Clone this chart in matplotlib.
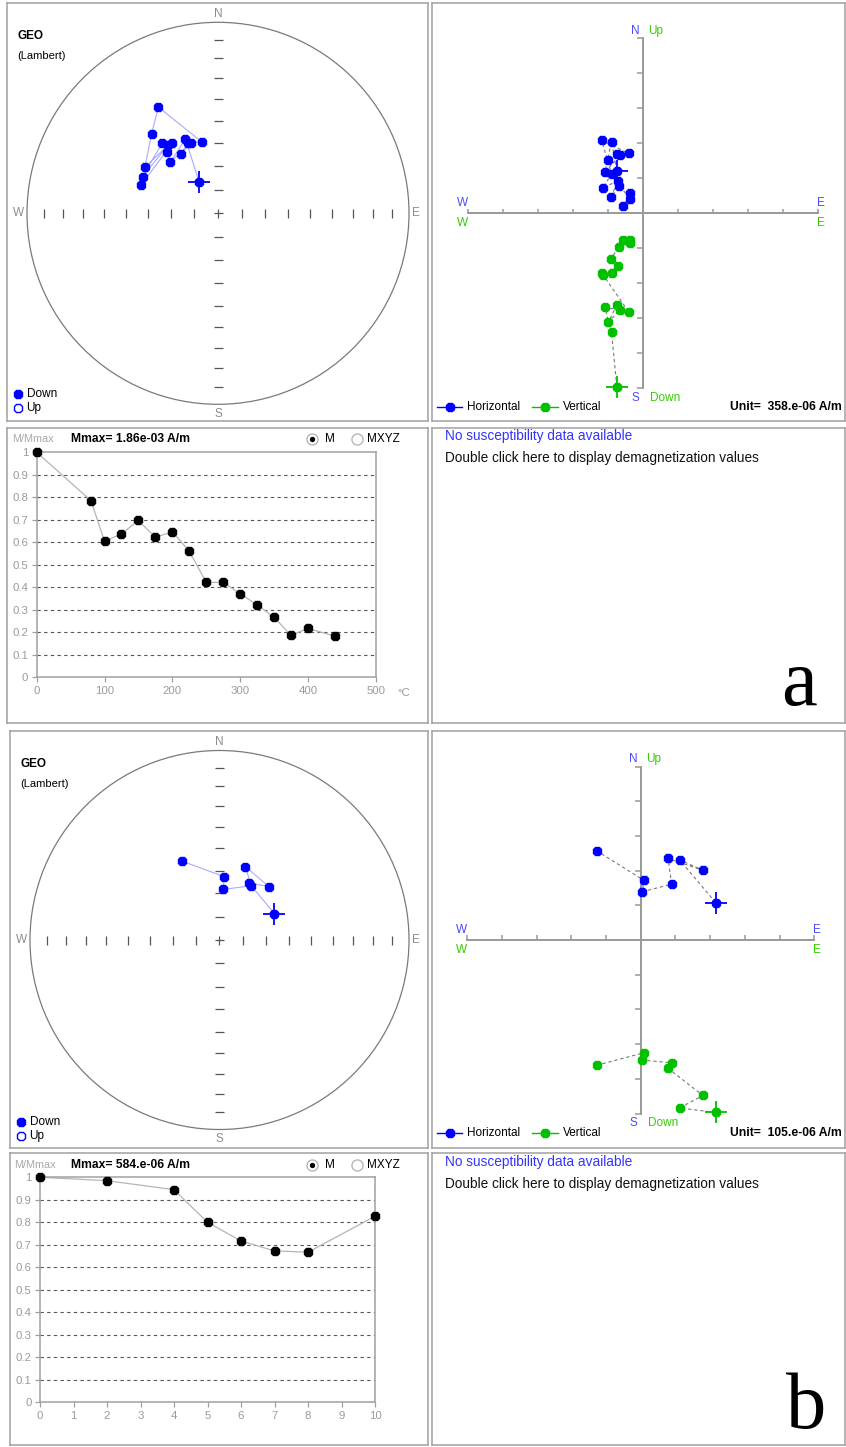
import numpy as np
import matplotlib.pyplot as plt
from matplotlib.patches import Circle

plt.rcParams['font.family'] = ['Liberation Sans', 'DejaVu Sans']

# ---------------- sample a : thermal demagnetization ----------------
steps_a = [0, 80, 100, 125, 150, 175, 200, 225, 250, 275, 300, 325, 350, 375, 400, 440]
m_ratio_a = [1.0, 0.785, 0.605, 0.637, 0.697, 0.622, 0.647, 0.561,
             0.422, 0.422, 0.372, 0.322, 0.267, 0.187, 0.217, 0.183]
# Zijderveld components, in units of 358e-06 A/m
east_a = [-0.74, -0.89, -1.08, -0.65, -0.98, -0.74, -0.39, -1.17,
          -0.89, -1.14, -0.70, -0.91, -0.67, -0.36, -0.36, -0.55]
north_a = [1.22, 2.05, 1.17, 1.66, 1.52, 1.70, 1.71, 2.08,
           1.12, 0.73, 0.93, 0.46, 0.79, 0.42, 0.57, 0.20]
up_a = [-4.95, -3.40, -2.69, -2.76, -3.11, -2.62, -2.83, -1.71,
        -1.70, -1.75, -1.50, -1.30, -0.95, -0.76, -0.86, -0.76]
# Lambert equal-area projection (primitive circle = 1)
lam_e_a = [-0.099, -0.171, -0.249, -0.143, -0.195, -0.157, -0.084, -0.312,
           -0.348, -0.383, -0.261, -0.395, -0.293, -0.267, -0.239, -0.402]
lam_n_a = [0.166, 0.389, 0.268, 0.366, 0.310, 0.369, 0.373, 0.556,
           0.415, 0.240, 0.357, 0.192, 0.366, 0.319, 0.366, 0.150]
unit_a = 'Unit=  358.e-06 A/m'
mmax_a = 'Mmax= 1.86e-03 A/m'

# ---------------- sample b : AF demagnetization ----------------
steps_b = [0, 2, 4, 5, 6, 7, 8, 10]
m_ratio_b = [1.0, 0.985, 0.945, 0.80, 0.717, 0.673, 0.667, 0.827]
east_b = [2.16, 1.12, 1.79, 0.79, 0.89, 0.05, 0.09, -1.27]
north_b = [1.08, 2.31, 2.01, 2.35, 1.61, 1.39, 1.72, 2.57]
up_b = [-4.97, -4.84, -4.48, -3.70, -3.54, -3.46, -3.25, -3.61]
lam_e_b = [0.290, 0.155, 0.262, 0.137, 0.167, 0.019, 0.026, -0.200]
lam_n_b = [0.139, 0.302, 0.281, 0.387, 0.286, 0.267, 0.334, 0.417]
unit_b = 'Unit=  105.e-06 A/m'
mmax_b = 'Mmax= 584.e-06 A/m'

FRAME = '#a0a0a0'
AXIS = '#999999'
BLUE = '#0000ff'
GREEN = '#00c000'
LBL_BLUE = '#4a4aff'
LBL_GREEN = '#33cc00'

W, H = 846, 1447
fig = plt.figure(figsize=(W / 100, H / 100), dpi=100)


def box_axes(x0, y0, x1, y1):
    ax = fig.add_axes([x0 / W, 1 - y1 / H, (x1 - x0) / W, (y1 - y0) / H])
    ax.set_xticks([])
    ax.set_yticks([])
    for sp in ax.spines.values():
        sp.set_color(FRAME)
        sp.set_linewidth(1.1)
    return ax


def scale_axes(ax, box, origin, px_per_unit):
    x0, y0, x1, y1 = box
    ox, oy = origin
    ax.set_xlim((x0 - ox) / px_per_unit, (x1 - ox) / px_per_unit)
    ax.set_ylim((oy - y1) / px_per_unit, (oy - y0) / px_per_unit)


def stereonet(box, center, radius, lam_e, lam_n):
    ax = box_axes(*box)
    scale_axes(ax, box, center, radius)
    ax.add_patch(Circle((0, 0), 1, fill=False, ec='#7a7a7a', lw=0.9))
    r = np.sqrt(1 - np.sin(np.radians(np.arange(10, 90, 10))))
    r = np.concatenate([-r, r])
    tl = 4.5 / radius
    ax.vlines(r, -tl, tl, color='#555555', lw=0.9)
    ax.hlines(r, -tl, tl, color='#555555', lw=0.9)
    ax.vlines(0, -tl, tl, color='#555555', lw=0.9)
    ax.hlines(0, -tl, tl, color='#555555', lw=0.9)
    for lbl, x, y in [('N', 0, 1.045), ('S', 0, -1.05), ('W', -1.045, 0), ('E', 1.035, 0)]:
        ax.text(x, y, lbl, ha='center', va='center', color='#8c8c8c', fontsize=8.5)
    ax.plot(lam_e, lam_n, color='#a9a9ff', lw=0.8)
    ax.plot(lam_e, lam_n, ls='none', marker='8', ms=6.8, color=BLUE)
    ax.plot(lam_e[0], lam_n[0], marker='+', ms=16, mew=1.3, color=BLUE)
    return ax


def zijderveld(box, origin, unit_px, east, north, up):
    ax = box_axes(*box)
    scale_axes(ax, box, origin, unit_px)
    k = np.array([-5, -4, -3, -2, -1, 1, 2, 3, 4, 5])
    ax.plot([-5, 5], [0, 0], color=AXIS, lw=1.4)
    ax.plot([0, 0], [-5, 5], color=AXIS, lw=1.4)
    ax.vlines(k, 0, 0.13, color=AXIS, lw=1.1)
    ax.hlines(k, -0.15, 0, color=AXIS, lw=1.1)
    dash = (0, (3, 2.5))
    ax.plot(east, north, color='#7a7a7a', lw=0.8, ls=dash)
    ax.plot(east, up, color='#7a7a7a', lw=0.8, ls=dash)
    ax.plot(east, north, ls='none', marker='8', ms=6.8, color=BLUE)
    ax.plot(east, up, ls='none', marker='8', ms=6.8, color=GREEN)
    ax.plot(east[0], north[0], marker='+', ms=16, mew=1.3, color=BLUE)
    ax.plot(east[0], up[0], marker='+', ms=16, mew=1.3, color=GREEN)
    ax.text(-5.15, 0.12, 'W', color=LBL_BLUE, ha='center', va='bottom', fontsize=8.5)
    ax.text(-5.15, -0.12, 'W', color=LBL_GREEN, ha='center', va='top', fontsize=8.5)
    ax.text(5.08, 0.12, 'E', color=LBL_BLUE, ha='center', va='bottom', fontsize=8.5)
    ax.text(5.08, -0.12, 'E', color=LBL_GREEN, ha='center', va='top', fontsize=8.5)
    ax.text(-0.1, 5.05, 'N', color=LBL_BLUE, ha='right', va='bottom', fontsize=8.5)
    ax.text(0.15, 5.05, 'Up', color=LBL_GREEN, ha='left', va='bottom', fontsize=8.5)
    ax.text(-0.1, -5.1, 'S', color=LBL_BLUE, ha='right', va='top', fontsize=8.5)
    ax.text(0.2, -5.1, 'Down', color=LBL_GREEN, ha='left', va='top', fontsize=8.5)
    return ax


def demag(frame_box, plot_box, steps, ratio, xmax, xticks):
    box_axes(*frame_box)
    ax = box_axes(*plot_box)
    ax.set_xlim(0, xmax)
    ax.set_ylim(0, 1)
    ax.hlines(np.arange(1, 10) / 10, 0, xmax, color='#555555', lw=0.8,
              linestyles=(0, (3, 3)))
    ax.plot(steps, ratio, color='#b5b5b5', lw=0.9, clip_on=False)
    ax.plot(steps, ratio, ls='none', marker='8', ms=6.8, color='black', clip_on=False, zorder=5)
    yt = np.arange(0, 11) / 10
    ax.set_yticks(yt)
    ax.set_yticklabels(['0'] + [f'{v:.1f}' for v in yt[1:-1]] + ['1'])
    ax.set_xticks(xticks)
    ax.tick_params(length=3.5, width=0.9, color=FRAME, labelcolor='#9a9a9a',
                   labelsize=8.2, pad=2.5)
    return ax


# ---------------- panels ----------------
stereonet((7, 3, 428, 421), (218, 213.3), 191, lam_e_a, lam_n_a)
zijderveld((432, 3, 845, 421), (642.7, 213.3), 35, east_a, north_a, up_a)
demag((7, 428, 428, 723), (36.7, 452.3, 375.7, 677.3), steps_a, m_ratio_a,
      500, [0, 100, 200, 300, 400, 500])
box_axes(432, 428, 845, 723)

stereonet((10, 731, 428, 1148), (219.5, 940), 189.5, lam_e_b, lam_n_b)
zijderveld((432, 731, 845, 1148), (640.7, 940), 34.7, east_b, north_b, up_b)
demag((10, 1153, 428, 1445), (40, 1177.3, 375, 1402.3), steps_b, m_ratio_b,
      10, list(range(11)))
box_axes(432, 1153, 845, 1445)

# ---------------- overlay: headers, legends, labels ----------------
ov = fig.add_axes([0, 0, 1, 1])
ov.set_xlim(0, W)
ov.set_ylim(H, 0)
ov.axis('off')
ov.patch.set_alpha(0)

for dy in (0, 728):
    # stereonet header and legend
    ov.text(17 + dy / 240, 36 + dy, 'GEO', fontsize=8.5, fontweight='bold', va='center')
    ov.text(17 + dy / 240, 56 + dy, '(Lambert)', fontsize=8, va='center')
    ov.plot(17.5 + dy / 240, 394 + dy, marker='8', ms=6, color=BLUE)
    ov.plot(17.5 + dy / 240, 407.5 + dy, marker='8', ms=6, mfc='white', mec=BLUE, mew=1)
    ov.text(26.5 + dy / 240, 394 + dy, 'Down', fontsize=8.5, va='center')
    ov.text(26.5 + dy / 240, 408 + dy, 'Up', fontsize=8.5, va='center')

for y0, unit_txt in ((407, unit_a), (1133, unit_b)):
    ov.plot([437, 462], [y0, y0], color=BLUE, lw=1)
    ov.plot(450, y0, marker='8', ms=6, color=BLUE)
    ov.text(467, y0, 'Horizontal', fontsize=8.5, va='center')
    ov.plot([532, 558], [y0, y0], color=GREEN, lw=1)
    ov.plot(545, y0, marker='8', ms=6, color=GREEN)
    ov.text(563, y0, 'Vertical', fontsize=8.5, va='center')
    ov.text(842, y0, unit_txt, fontsize=8.7, fontweight='bold', ha='right', va='center')

for y0, mmax_txt, x_lab in ((438.5, mmax_a, 12), (1165, mmax_b, 14)):
    ov.text(x_lab, y0, 'M/Mmax', fontsize=7.8, color='#a8a8a8', va='center')
    ov.text(71, y0, mmax_txt, fontsize=8.7, fontweight='bold', va='center')
    ov.plot(311.5, y0, marker='o', ms=8, mfc='white', mec='#b8b8b8', mew=1)
    ov.plot(311.5, y0, marker='o', ms=2.8, color='black')
    ov.text(325, y0, 'M', fontsize=8.5, va='center')
    ov.plot(356.5, y0, marker='o', ms=8, mfc='white', mec='#b8b8b8', mew=1)
    ov.text(366.5, y0, 'MXYZ', fontsize=8.5, va='center')

ov.text(397, 692.5, '°C', fontsize=8.2, color='#9a9a9a', va='center')

for y0 in (436, 1162):
    ov.text(445, y0, 'No susceptibility data available', fontsize=9.8,
            color='#3333ff', va='center')
    ov.text(445, y0 + 22, 'Double click here to display demagnetization values',
            fontsize=9.8, color='#111111', va='center')

ov.text(799, 705, 'a', fontsize=58, family='Liberation Serif', ha='center', va='baseline')
ov.text(806, 1428, 'b', fontsize=58, family='Liberation Serif', ha='center', va='baseline')

fig.savefig('out.png', dpi=100)
